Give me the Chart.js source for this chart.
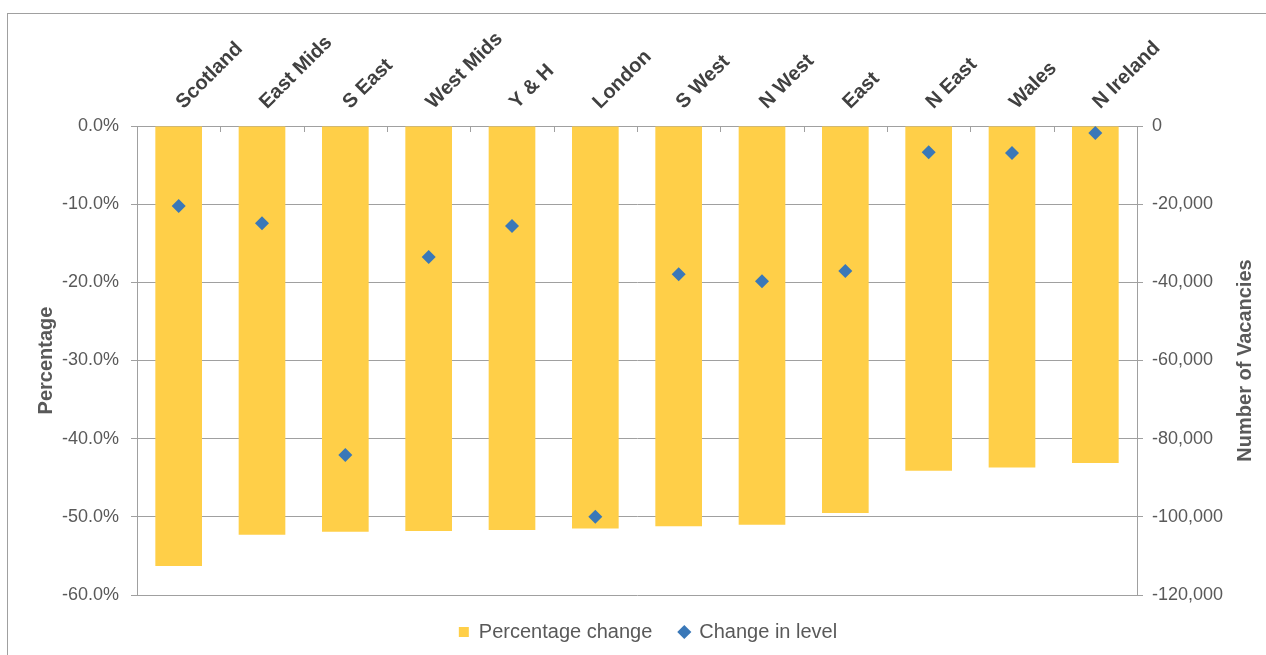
<!DOCTYPE html>
<html>
<head>
<meta charset="utf-8">
<script src="https://cdn.jsdelivr.net/npm/chart.js@4.4.1/dist/chart.umd.min.js"></script>
<style>
  html, body { margin: 0; padding: 0; background: #ffffff; }
  #wrap { position: relative; width: 1266px; height: 655px; overflow: hidden; }
  #frame { position: absolute; left: 7px; top: 13px; width: 1300px; height: 700px; border: 1px solid #a0a0a0; box-sizing: border-box; }
  canvas { position: absolute; left: 0; top: 0; }
</style>
</head>
<body>
<div id="wrap">
  <div id="frame"></div>
  <canvas id="c" width="1266" height="655"></canvas>
</div>
<script>
const categories = ['Scotland', 'East Mids', 'S East', 'West Mids', 'Y & H', 'London', 'S West', 'N West', 'East', 'N East', 'Wales', 'N Ireland'];
const percentageChange = [-56.3, -52.3, -51.9, -51.8, -51.7, -51.5, -51.2, -51.0, -49.5, -44.1, -43.7, -43.1];
const changeInLevel = [-20500, -24900, -84200, -33500, -25600, -100000, -37900, -39700, -37100, -6700, -6900, -1800];
const leftTicks = { min: -60, max: 0, step: 10 };
const rightTicks = { min: -120000, max: 0, step: 20000 };

const gridGray = '#a0a0a0';
const textGray = '#595959';
const FONT = "'Liberation Sans', Arial, sans-serif";

const rightTitlePlugin = {
  id: 'rightTitle',
  afterDraw(chart) {
    const { ctx, chartArea } = chart;
    ctx.save();
    ctx.translate(1245, (chartArea.top + chartArea.bottom) / 2);
    ctx.rotate(-Math.PI / 2);
    ctx.font = 'bold 20px ' + FONT;
    ctx.fillStyle = textGray;
    ctx.textAlign = 'center';
    ctx.textBaseline = 'middle';
    ctx.fillText('Number of Vacancies', 0, 0);
    ctx.restore();
  }
};

const xTickMarks = {
  id: 'xTickMarks',
  afterDraw(chart) {
    const x = chart.scales.x;
    const { ctx } = chart;
    const n = categories.length;
    const w = x.width / n;
    ctx.save();
    ctx.strokeStyle = gridGray;
    ctx.lineWidth = 1;
    for (let i = 0; i <= n; i++) {
      const px = Math.round(x.left + i * w) + 0.5;
      ctx.beginPath();
      ctx.moveTo(px, x.bottom);
      ctx.lineTo(px, x.bottom + 6);
      ctx.stroke();
    }
    ctx.restore();
  }
};

new Chart(document.getElementById('c'), {
  data: {
    labels: categories,
    datasets: [
      {
        type: 'bar',
        label: 'Percentage change',
        data: percentageChange,
        backgroundColor: '#ffcf48',
        borderWidth: 0,
        yAxisID: 'y',
        order: 1,
        pointStyle: 'rect',
        categoryPercentage: 1,
        barPercentage: 0.56
      },
      {
        type: 'line',
        label: 'Change in level',
        data: changeInLevel,
        showLine: false,
        pointStyle: 'rectRot',
        pointRadius: 7,
        pointHoverRadius: 7,
        backgroundColor: '#3a78b8',
        borderColor: '#3a78b8',
        borderWidth: 0,
        yAxisID: 'y1',
        order: 0
      }
    ]
  },
  options: {
    responsive: false,
    animation: false,
    devicePixelRatio: 1,
    layout: { padding: { left: 30, right: 0, top: 0, bottom: 3 } },
    plugins: {
      tooltip: { enabled: false },
      legend: {
        position: 'bottom',
        labels: {
          usePointStyle: true,
          boxWidth: 10,
          boxHeight: 10,
          padding: 27,
          color: textGray,
          font: { family: FONT, size: 20 },
          sort: (a, b) => a.datasetIndex - b.datasetIndex
        }
      }
    },
    scales: {
      x: {
        position: 'top',
        offset: true,
        afterFit: (s) => { s.height = 126; },
        grid: { display: false, drawTicks: false },
        border: { display: true, color: gridGray, width: 1 },
        ticks: {
          autoSkip: false,
          minRotation: 45,
          maxRotation: 45,
          padding: 12,
          labelOffset: 18,
          color: '#404040',
          font: { family: FONT, size: 20, weight: 'bold' }
        }
      },
      y: {
        position: 'left',
        min: leftTicks.min,
        max: leftTicks.max,
        afterFit: (s) => { s.width = 107; },
        grid: { color: gridGray, tickColor: gridGray, tickLength: 6, lineWidth: 1 },
        border: { display: true, color: gridGray, width: 1 },
        ticks: {
          stepSize: leftTicks.step,
          padding: 12,
          color: textGray,
          font: { family: FONT, size: 18 },
          callback: (v) => v.toFixed(1) + '%'
        },
        title: {
          display: true,
          text: 'Percentage',
          color: textGray,
          font: { family: FONT, size: 20, weight: 'bold' },
          padding: { top: 4, bottom: 0 }
        }
      },
      y1: {
        position: 'right',
        min: rightTicks.min,
        max: rightTicks.max,
        afterFit: (s) => { s.width = 129; },
        grid: { drawOnChartArea: false, color: gridGray, tickColor: gridGray, tickLength: 6 },
        border: { display: true, color: gridGray, width: 1 },
        ticks: {
          stepSize: rightTicks.step,
          padding: 9,
          color: textGray,
          font: { family: FONT, size: 18 },
          callback: (v) => v.toLocaleString('en-US')
        }
      }
    }
  },
  plugins: [rightTitlePlugin, xTickMarks]
});
</script>
</body>
</html>
